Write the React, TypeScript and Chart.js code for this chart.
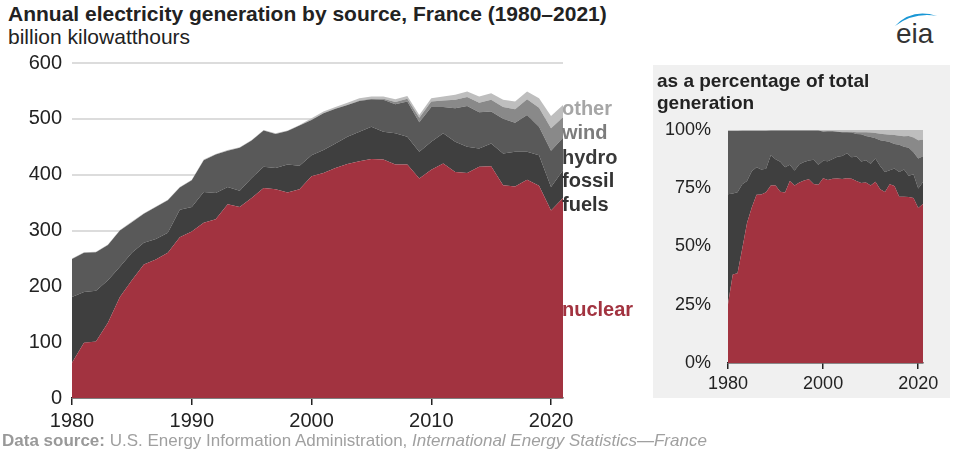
import React, { useEffect, useRef } from "react";
import { Chart, registerables } from "chart.js";
Chart.register(...registerables);

const years = [
  1980, 1981, 1982, 1983, 1984, 1985, 1986, 1987, 1988, 1989,
  1990, 1991, 1992, 1993, 1994, 1995, 1996, 1997, 1998, 1999,
  2000, 2001, 2002, 2003, 2004, 2005, 2006, 2007, 2008, 2009,
  2010, 2011, 2012, 2013, 2014, 2015, 2016, 2017, 2018, 2019,
  2020, 2021,
];
const nuclear = [
  63, 99, 101, 135, 181, 211, 239, 248, 260, 288,
  298, 314, 320, 347, 342, 358, 376, 374, 368, 374,
  397, 403, 412, 419, 424, 428, 427, 418, 418, 393,
  409, 420, 405, 403, 414, 415, 381, 379, 391, 380,
  336, 358,
];
const fossil = [
  118, 91, 91, 76, 54, 49, 39, 37, 36, 49,
  44, 55, 47, 31, 29, 36, 38, 38, 50, 42,
  38, 41, 44, 49, 53, 58, 50, 56, 50, 48,
  50, 54, 54, 47, 33, 41, 57, 62, 50, 55,
  42, 50,
];
const hydro = [
  68, 70, 69, 63, 65, 55, 52, 57, 58, 40,
  48, 57, 69, 65, 77, 67, 65, 61, 60, 72,
  63, 66, 62, 57, 55, 49, 57, 52, 63, 53,
  62, 47, 60, 73, 65, 57, 62, 52, 66, 51,
  65, 58,
];
const wind = [
  0, 0, 0, 0, 0, 0, 0, 0, 0, 0,
  0, 0, 0, 0, 0, 0, 0, 0, 0, 0,
  0, 0, 0, 0, 1, 1, 2, 4, 5, 8,
  10, 12, 15, 16, 17, 21, 21, 24, 28, 34,
  40, 37,
];
const other = [
  1, 1, 1, 1, 1, 1, 1, 1, 1, 1,
  1, 1, 1, 1, 1, 1, 1, 1, 1, 1,
  3, 3, 3, 4, 4, 4, 4, 5, 5, 5,
  6, 7, 9, 10, 11, 12, 13, 14, 14, 17,
  22, 22,
];
const seriesNames = ["nuclear", "fossil fuels", "hydro", "wind", "other"];
const mainXTicks = [1980, 1990, 2000, 2010, 2020];
const pctXTicks = [1980, 2000, 2020];
const mainYMax = 600;
const mainYStep = 100;

const COLORS = ["#a23340", "#3f3f3f", "#595959", "#898989", "#bebebe"];
const FONT = "'Liberation Sans', Arial, Helvetica, sans-serif";

function buildDatasets(asPct: boolean) {
  const all = [nuclear, fossil, hydro, wind, other];
  const totals = years.map((_, i) => all.reduce((s, a) => s + a[i], 0));
  return all.map((arr, k) => ({
    label: seriesNames[k],
    data: years.map((y, i) => ({ x: y, y: asPct ? (arr[i] / totals[i]) * 100 : arr[i] })),
    backgroundColor: COLORS[k],
    borderColor: COLORS[k],
    borderWidth: 0,
    pointRadius: 0,
    pointHoverRadius: 0,
    tension: 0,
    fill: k === 0 ? "origin" : "-1",
  }));
}

function MainChart() {
  const ref = useRef<HTMLCanvasElement | null>(null);
  useEffect(() => {
    if (!ref.current) return;
    const chart = new Chart(ref.current, {
      type: "line",
      data: { datasets: buildDatasets(false) as any },
      options: {
        animation: false,
        responsive: false,
        maintainAspectRatio: false,
        layout: { padding: { top: 13, right: 37, bottom: 0, left: 0 } },
        plugins: { legend: { display: false }, tooltip: { enabled: false } },
        scales: {
          x: {
            type: "linear",
            min: 1980,
            max: 2021,
            afterBuildTicks: (s: any) => {
              s.ticks = mainXTicks.map((v) => ({ value: v }));
            },
            afterFit: (s: any) => {
              s.height = 42;
            },
            ticks: {
              callback: (v: any) => String(v),
              color: "#222",
              font: { family: FONT, size: 20 },
              padding: 4,
              maxRotation: 0,
            },
            grid: { display: true, drawOnChartArea: false, drawTicks: true, tickLength: 7, color: "#222", lineWidth: 1.5 },
            border: { display: true, color: "#222", width: 1.5 },
          },
          y: {
            stacked: true,
            min: 0,
            max: mainYMax,
            ticks: {
              stepSize: mainYStep,
              color: "#222",
              font: { family: FONT, size: 20 },
              padding: 0,
            },
            afterFit: (s: any) => {
              s.width = 72;
            },
            grid: { color: "#dcdcdc", lineWidth: 2, drawTicks: true, tickLength: 10, tickColor: "rgba(0,0,0,0)" },
            border: { display: false },
          },
        },
      },
    });
    return () => chart.destroy();
  }, []);
  return (
    <canvas
      ref={ref}
      width={600}
      height={390}
      style={{ position: "absolute", left: 0, top: 50, width: 600, height: 390 }}
    />
  );
}

function PctChart() {
  const ref = useRef<HTMLCanvasElement | null>(null);
  useEffect(() => {
    if (!ref.current) return;
    const chart = new Chart(ref.current, {
      type: "line",
      data: { datasets: buildDatasets(true) as any },
      options: {
        animation: false,
        responsive: false,
        maintainAspectRatio: false,
        layout: { padding: { top: 20, right: 27, bottom: 0, left: 0 } },
        plugins: { legend: { display: false }, tooltip: { enabled: false } },
        scales: {
          x: {
            type: "linear",
            min: 1980,
            max: 2021,
            afterBuildTicks: (s: any) => {
              s.ticks = pctXTicks.map((v) => ({ value: v }));
            },
            afterFit: (s: any) => {
              s.height = 37;
            },
            ticks: {
              callback: (v: any) => String(v),
              color: "#222",
              font: { family: FONT, size: 18 },
              padding: 4,
              maxRotation: 0,
            },
            grid: { display: true, drawOnChartArea: false, drawTicks: true, tickLength: 6, color: "#222", lineWidth: 1.5 },
            border: { display: true, color: "#222", width: 1.5 },
          },
          y: {
            stacked: true,
            min: 0,
            max: 100,
            ticks: {
              stepSize: 25,
              callback: (v: any) => v + "%",
              color: "#222",
              font: { family: FONT, size: 18 },
              padding: 0,
            },
            afterFit: (s: any) => {
              s.width = 75;
            },
            grid: { display: false, drawTicks: true, tickLength: 17, tickColor: "rgba(0,0,0,0)" },
            border: { display: false },
          },
        },
      },
    });
    return () => chart.destroy();
  }, []);
  return (
    <canvas
      ref={ref}
      width={297}
      height={290}
      style={{ position: "absolute", left: 653, top: 110, width: 297, height: 290 }}
    />
  );
}

const labelBase: React.CSSProperties = {
  position: "absolute",
  left: 562,
  fontFamily: FONT,
  fontWeight: "bold",
  fontSize: 20,
  lineHeight: "24px",
  whiteSpace: "nowrap",
};

export default function App() {
  return (
    <div
      style={{
        position: "absolute",
        left: 0,
        top: 0,
        width: 960,
        height: 453,
        background: "#fff",
        overflow: "hidden",
        fontFamily: FONT,
      }}
    >
      <div style={{ position: "absolute", left: 8, top: 2, fontSize: 21, lineHeight: "24px", fontWeight: "bold", color: "#222", whiteSpace: "nowrap" }}>
        Annual electricity generation by source, France (1980–2021)
      </div>
      <div style={{ position: "absolute", left: 8, top: 25, fontSize: 21, lineHeight: "24px", color: "#222", whiteSpace: "nowrap" }}>
        billion kilowatthours
      </div>
      <svg style={{ position: "absolute", left: 880, top: 0 }} width={70} height={50} viewBox="880 0 70 50">
        <path d="M895,26 Q912,8 937,16 Q914,12 895,26 Z" fill="#1a97d5" />
        <text x={896} y={43} fontFamily={FONT} fontSize={28} fill="#333">eia</text>
      </svg>

      <div style={{ position: "absolute", left: 653, top: 65, width: 297, height: 333, background: "#f0f0f0" }} />
      <MainChart />
      <PctChart />

      <div style={{ ...labelBase, top: 96, color: "#a6a6a6" }}>other</div>
      <div style={{ ...labelBase, top: 120, color: "#7c7c7c" }}>wind</div>
      <div style={{ ...labelBase, top: 145, color: "#3a3a3a" }}>hydro</div>
      <div style={{ ...labelBase, top: 168, color: "#333" }}>fossil</div>
      <div style={{ ...labelBase, top: 192, color: "#333" }}>fuels</div>
      <div style={{ ...labelBase, top: 297, color: "#a23340" }}>nuclear</div>

      <div style={{ position: "absolute", left: 657, top: 70, fontSize: 19, lineHeight: "22px", fontWeight: "bold", color: "#222", whiteSpace: "nowrap" }}>
        as a percentage of total
        <br />
        generation
      </div>

      <div style={{ position: "absolute", left: 2, top: 430, fontSize: 17, lineHeight: "22px", color: "#a0a0a0", whiteSpace: "nowrap" }}>
        <span style={{ fontWeight: "bold", color: "#999" }}>Data source:</span> U.S. Energy Information Administration,{" "}
        <i>International Energy Statistics—France</i>
      </div>
    </div>
  );
}
